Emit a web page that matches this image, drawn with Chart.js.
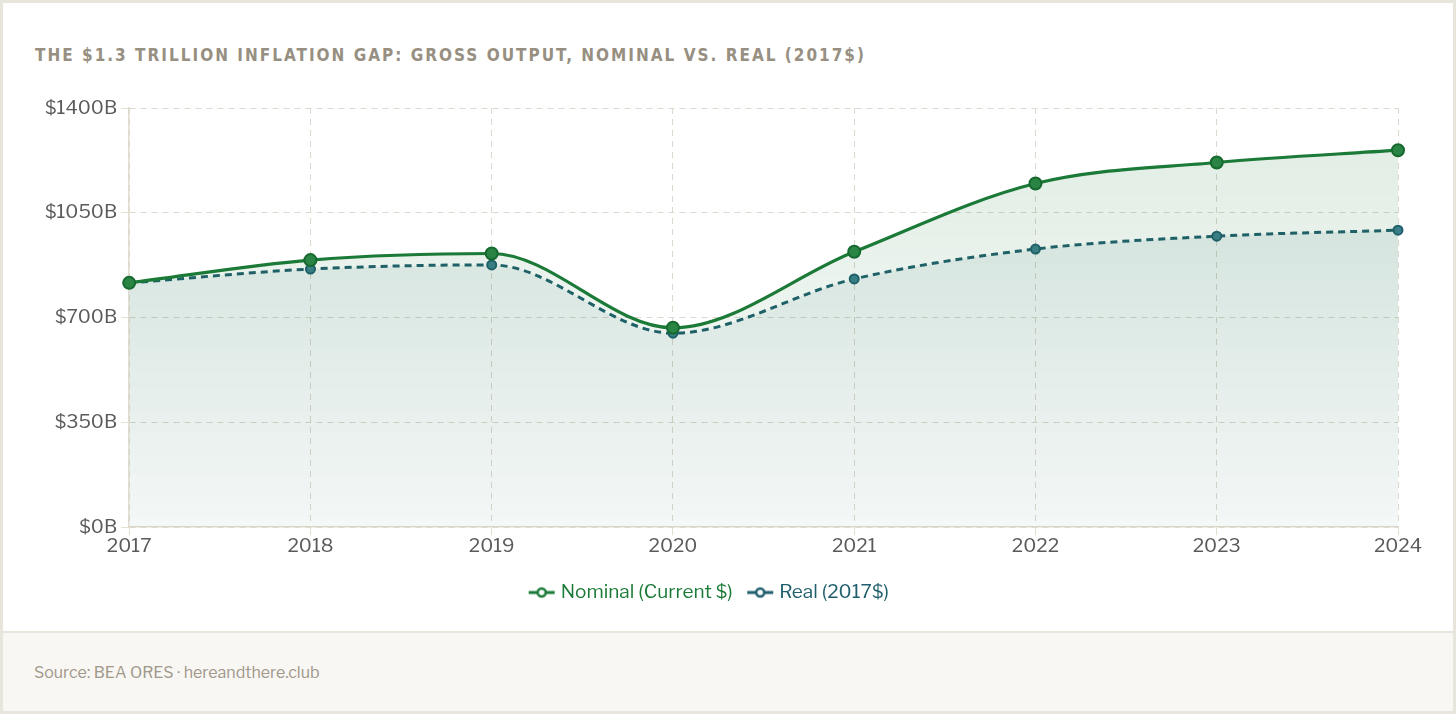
<!DOCTYPE html>
<html>
<head>
<meta charset="utf-8">
<script src="https://cdn.jsdelivr.net/npm/chart.js@4.4.0/dist/chart.umd.min.js"></script>
<style>
  html, body { margin: 0; padding: 0; background: #ffffff; }
  .card {
    position: absolute; left: 0; top: 0; width: 1456px; height: 714px;
    box-sizing: border-box; border: 3px solid #e8e5dd; background: #fff; overflow: hidden;
  }
  .title {
    position: absolute; left: 32px; top: 42px;
    font-family: "DejaVu Sans", sans-serif; font-stretch: condensed;
    font-weight: bold; font-size: 17px; letter-spacing: 2px; color: #978f81;
  }
  .chartbox { position: absolute; left: 0; top: 80px; width: 1450px; height: 540px; }
  .footer {
    position: absolute; left: 0; right: 0; bottom: 0; height: 78px;
    background: #f8f7f4; border-top: 2px solid #e8e5dd;
  }
  .source {
    position: absolute; left: 31px; top: 30px;
    font-family: "Libre Franklin", "Inter", "Noto Sans", sans-serif;
    font-size: 16px; color: #a1988a;
  }
</style>
</head>
<body>
<div class="card">
  <div class="title">THE $1.3 TRILLION INFLATION GAP: GROSS OUTPUT, NOMINAL VS. REAL (2017$)</div>
  <div class="chartbox"><canvas id="c"></canvas></div>
  <div class="footer"><div class="source">Source: BEA ORES · hereandthere.club</div></div>
</div>
<script>
const years = ["2017", "2018", "2019", "2020", "2021", "2022", "2023", "2024"];
const nominal = [816, 892, 914, 666, 920, 1148, 1218, 1259];
const real = [816, 862, 876, 648, 829, 929, 972, 992];
const yTicks = [0, 350, 700, 1050, 1400];

const GREEN = "#1b7a37";
const TEAL = "#1f5e6c";
const FONT = '"Libre Franklin", "Inter", "Noto Sans", sans-serif';

function grad(ctx, top, bottom) {
  const ch = ctx.chart;
  const a = ch.chartArea;
  if (!a) return top;
  const g = ch.ctx.createLinearGradient(0, a.top, 0, a.bottom);
  g.addColorStop(0, top);
  g.addColorStop(1, bottom);
  return g;
}

function legendIcon(color) {
  const c = document.createElement("canvas");
  c.width = 28; c.height = 14;
  const x = c.getContext("2d");
  x.strokeStyle = color; x.lineWidth = 3;
  x.beginPath(); x.moveTo(1, 7); x.lineTo(27, 7); x.stroke();
  x.fillStyle = "#fff"; x.lineWidth = 2.5;
  x.beginPath(); x.arc(14, 7, 4, 0, Math.PI * 2); x.fill(); x.stroke();
  return c;
}

new Chart(document.getElementById("c"), {
  type: "line",
  data: {
    labels: years,
    datasets: [
      {
        label: "Nominal (Current $)",
        data: nominal,
        borderColor: GREEN,
        borderWidth: 3.2,
        cubicInterpolationMode: "monotone",
        fill: "origin",
        backgroundColor: (ctx) => grad(ctx, "rgba(27,122,55,0.14)", "rgba(27,122,55,0.02)"),
        pointRadius: 6,
        pointBackgroundColor: "#2a8444",
        pointBorderColor: "#16692f",
        pointBorderWidth: 2,
        order: 1
      },
      {
        label: "Real (2017$)",
        data: real,
        borderColor: TEAL,
        borderWidth: 3,
        borderDash: [7, 5],
        cubicInterpolationMode: "monotone",
        fill: "origin",
        backgroundColor: (ctx) => grad(ctx, "rgba(31,94,108,0.11)", "rgba(31,94,108,0.03)"),
        pointRadius: 4.5,
        pointBackgroundColor: "#3a7f8c",
        pointBorderColor: TEAL,
        pointBorderWidth: 2,
        order: 2
      }
    ]
  },
  options: {
    responsive: true,
    maintainAspectRatio: false,
    animation: false,
    layout: { padding: { left: 20, right: 55, top: 25, bottom: 11 } },
    scales: {
      x: {
        offset: false,
        afterFit: (s) => { s.height += 7; },
        grid: { color: "#dcd8cd", drawTicks: true, tickLength: 8, tickColor: "#e3dfd3" },
        border: { display: true, color: "#e0dccf", width: 1.5, dash: [6, 5] },
        ticks: { color: "#5a5a5a", font: { family: FONT, size: 19 }, padding: 0 }
      },
      y: {
        min: 0, max: 1400,
        afterFit: (s) => { s.width += 18; },
        afterBuildTicks: (ax) => { ax.ticks = yTicks.map(v => ({ value: v })); },
        grid: { color: "#dcd8cd", tickLength: 8, tickColor: "#e3dfd3" },
        border: { display: true, color: "#e0dccf", width: 1.5, dash: [6, 5] },
        ticks: {
          color: "#5a5a5a", font: { family: FONT, size: 19 }, padding: 4,
          callback: (v) => "$" + v + "B"
        }
      }
    },
    plugins: {
      legend: {
        position: "bottom",
        labels: {
          usePointStyle: true,
          padding: 18,
          font: { family: FONT, size: 19 },
          generateLabels: (chart) => chart.data.datasets.map((ds, i) => ({
            text: ds.label,
            fontColor: ds.borderColor,
            pointStyle: legendIcon(ds.borderColor),
            strokeStyle: ds.borderColor,
            fillStyle: ds.borderColor,
            lineWidth: 0,
            hidden: !chart.isDatasetVisible(i),
            datasetIndex: i
          }))
        }
      },
      tooltip: { enabled: false }
    }
  }
});
</script>
</body>
</html>
